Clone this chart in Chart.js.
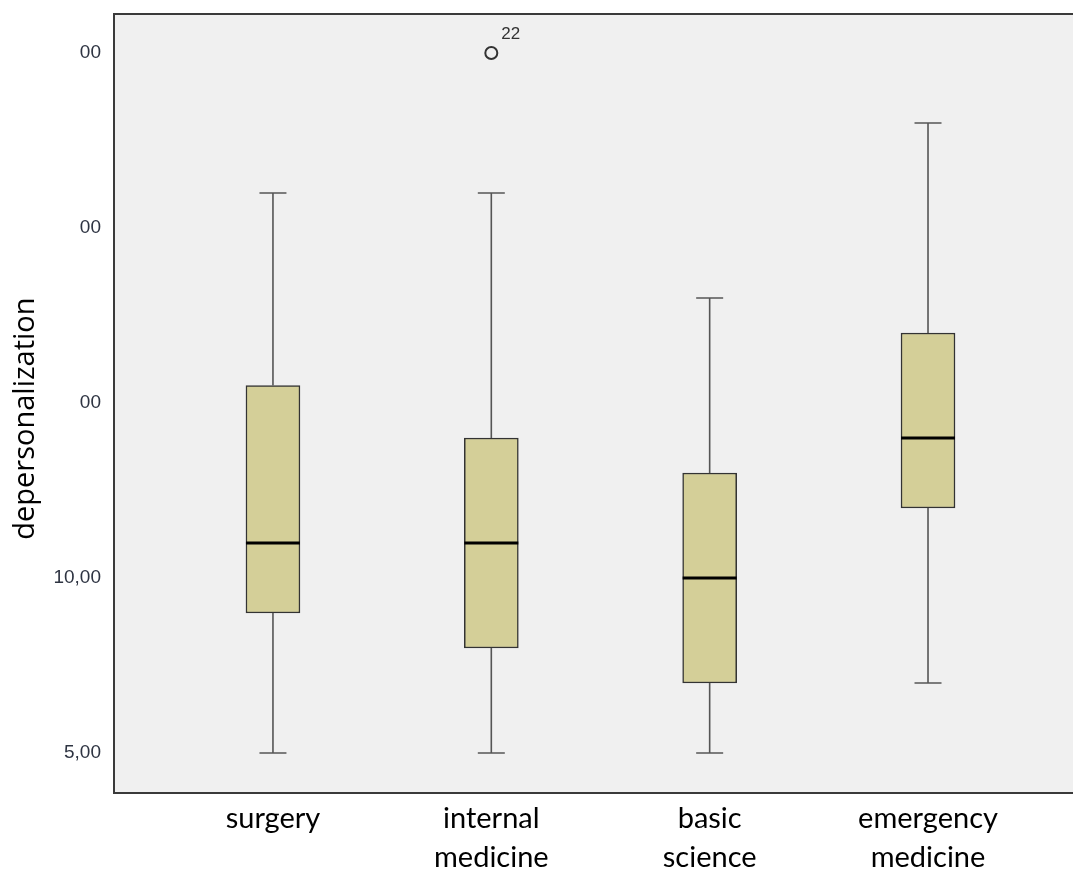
<!DOCTYPE html>
<html>
<head>
<meta charset="utf-8">
<script src="https://cdn.jsdelivr.net/npm/chart.js@4.4.1/dist/chart.umd.min.js"></script>
<style>
  html, body { margin: 0; padding: 0; background: #fff; overflow: hidden; }
  canvas { display: block; }
</style>
</head>
<body>
<canvas id="chart" width="1073" height="871"></canvas>
<script>
// --- Datos del boxplot (depersonalization por especialidad) ---
const categories = [['surgery'], ['internal', 'medicine'], ['basic', 'science'], ['emergency', 'medicine']];
const whiskerLow = [5, 5, 5, 7];
const q1 = [9, 8, 7, 12];
const medians = [11, 11, 10, 14];
const q3 = [15.5, 14, 13, 17];
const whiskerHigh = [21, 21, 18, 23];
// outliers: categoría (1-based), valor, etiqueta del caso
const outlierCat = [2];
const outlierVal = [25];
const outlierLabel = ['22'];
const yTickValues = [5, 10, 15, 20, 25];
const yTickLabels = ['5,00', '10,00', '00', '00', '00'];

const boxData = categories.map((c, i) => ({ x: i + 1, y: [q1[i], q3[i]] }));
const outlierData = outlierCat.map((c, i) => ({ x: c, y: outlierVal[i] }));

// fondo y borde superior del área de trazado
const frame = {
  id: 'frame',
  beforeDraw(chart) {
    const { ctx, chartArea: a } = chart;
    ctx.save();
    ctx.fillStyle = '#f0f0f0';
    ctx.fillRect(a.left, a.top, a.right - a.left, a.bottom - a.top);
    ctx.strokeStyle = '#3a3a3a';
    ctx.lineWidth = 2;
    ctx.beginPath();
    ctx.moveTo(a.left, a.top);
    ctx.lineTo(a.right, a.top);
    ctx.stroke();
    ctx.restore();
  }
};

// bigotes, medianas y etiquetas de outliers
const boxExtras = {
  id: 'boxExtras',
  afterDatasetsDraw(chart) {
    const { ctx, scales } = chart;
    const y = scales.y;
    const bars = chart.getDatasetMeta(0).data;
    ctx.save();
    bars.forEach((bar, i) => {
      const cx = bar.x;
      const half = bar.width / 2;
      const cap = 13.5;
      ctx.strokeStyle = '#555';
      ctx.lineWidth = 1.6;
      ctx.beginPath();
      ctx.moveTo(cx, y.getPixelForValue(q3[i]));
      ctx.lineTo(cx, y.getPixelForValue(whiskerHigh[i]));
      ctx.moveTo(cx - cap, y.getPixelForValue(whiskerHigh[i]));
      ctx.lineTo(cx + cap, y.getPixelForValue(whiskerHigh[i]));
      ctx.moveTo(cx, y.getPixelForValue(q1[i]));
      ctx.lineTo(cx, y.getPixelForValue(whiskerLow[i]));
      ctx.moveTo(cx - cap, y.getPixelForValue(whiskerLow[i]));
      ctx.lineTo(cx + cap, y.getPixelForValue(whiskerLow[i]));
      ctx.stroke();
      ctx.strokeStyle = '#000';
      ctx.lineWidth = 3;
      ctx.beginPath();
      ctx.moveTo(cx - half, y.getPixelForValue(medians[i]));
      ctx.lineTo(cx + half, y.getPixelForValue(medians[i]));
      ctx.stroke();
    });
    const pts = chart.getDatasetMeta(1).data;
    ctx.fillStyle = '#333';
    ctx.font = '17px "Liberation Sans", Arial, sans-serif';
    ctx.textAlign = 'left';
    ctx.textBaseline = 'middle';
    pts.forEach((p, i) => ctx.fillText(outlierLabel[i], p.x + 10, p.y - 19));
    ctx.restore();
  }
};

new Chart(document.getElementById('chart'), {
  type: 'bar',
  data: {
    datasets: [
      {
        type: 'bar',
        data: boxData,
        backgroundColor: '#d4cf98',
        borderColor: '#333',
        borderWidth: 1.5,
        borderSkipped: false,
        barThickness: 54
      },
      {
        type: 'scatter',
        data: outlierData,
        pointRadius: 6,
        pointBorderWidth: 2,
        pointBorderColor: '#333',
        pointBackgroundColor: 'rgba(0,0,0,0)'
      }
    ]
  },
  options: {
    responsive: false,
    animation: false,
    layout: { autoPadding: false, padding: { top: 14, right: 0, left: 0, bottom: 0 } },
    plugins: { legend: { display: false }, tooltip: { enabled: false } },
    scales: {
      x: {
        type: 'linear',
        offset: false,
        min: 0.272,
        max: 4.664,
        afterBuildTicks: axis => { axis.ticks = categories.map((c, i) => ({ value: i + 1 })); },
        afterFit: s => { s.height = 78; s.paddingLeft = 0; s.paddingRight = 0; },
        grid: { display: false, offset: false, drawTicks: true, tickLength: 6 },
        border: { display: true, color: '#3a3a3a', width: 2 },
        ticks: {
          color: '#000',
          padding: 0,
          maxRotation: 0,
          autoSkip: false,
          font: { family: 'Lato, "Open Sans", sans-serif', size: 29, lineHeight: 1.34 },
          callback: v => categories[v - 1] || ''
        }
      },
      y: {
        type: 'linear',
        min: 3.857,
        max: 26.114,
        afterBuildTicks: axis => { axis.ticks = yTickValues.map(v => ({ value: v })); },
        afterFit: s => { s.width = 114; },
        grid: { display: false, drawTicks: true, tickLength: 11, tickColor: '#3a3a3a', tickWidth: 2 },
        border: { display: true, color: '#3a3a3a', width: 2 },
        ticks: {
          color: '#2e3442',
          padding: 2,
          font: { family: '"Liberation Sans", Arial, sans-serif', size: 19 },
          callback: v => yTickLabels[yTickValues.indexOf(v)]
        },
        title: {
          display: true,
          text: 'depersonalization    ',
          color: '#000',
          padding: { top: 8, bottom: 0 },
          font: { family: '"Open Sans", sans-serif', size: 29 }
        }
      }
    }
  },
  plugins: [frame, boxExtras]
});
</script>
</body>
</html>
